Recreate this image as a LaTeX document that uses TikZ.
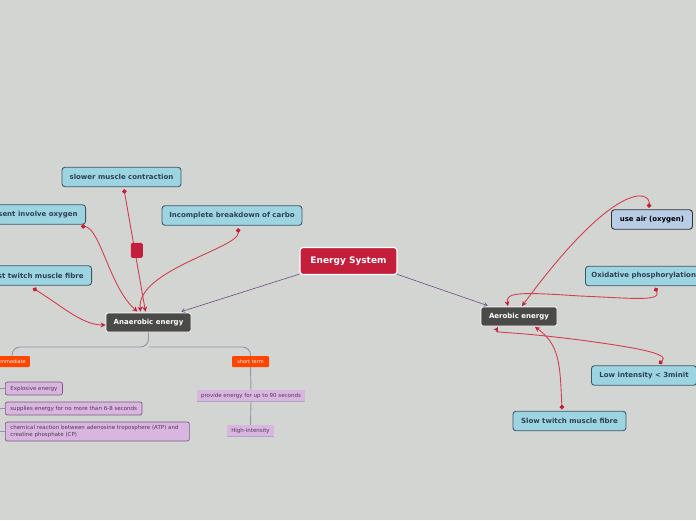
\documentclass[tikz,border=0pt]{standalone}
\usepackage{fontspec}
\setmainfont{DejaVu Sans}
\usetikzlibrary{arrows.meta,calc}
\definecolor{bg}{HTML}{D3D5D2}
\definecolor{esred}{HTML}{C41E3A}
\definecolor{relred}{HTML}{D2404F}
\definecolor{dotred}{HTML}{C41E3A}
\definecolor{dgray}{HTML}{4A4A48}
\definecolor{lblue}{HTML}{9DD4E2}
\definecolor{lborder}{HTML}{3E5866}
\definecolor{ltext}{HTML}{2E4152}
\definecolor{airblue}{HTML}{B8CCE6}
\definecolor{orng}{HTML}{FF4400}
\definecolor{lpurple}{HTML}{D9B6E0}
\definecolor{pborder}{HTML}{7B5A82}
\definecolor{ptext}{HTML}{4F3A55}
\definecolor{brcol}{HTML}{9A90AE}
\definecolor{purpline}{HTML}{6A4A8A}
\tikzset{
  topic/.style={fill=esred, draw=white, line width=1.2pt, rounded corners=3pt, text=white,
    font=\fontsize{9}{10}\selectfont\bfseries, minimum width=97pt, minimum height=27pt, inner sep=0pt},
  mainbox/.style={fill=dgray, draw=white, line width=0.8pt, rounded corners=2pt, text=white,
    font=\fontsize{7}{8}\selectfont\bfseries, minimum height=19pt, inner sep=0pt},
  leaf/.style={fill=lblue, draw=lborder, line width=0.9pt, rounded corners=3pt, text=ltext,
    font=\fontsize{7}{8}\selectfont\bfseries, minimum height=19.5pt, inner sep=0pt},
  orangebox/.style={fill=orng, text=white, font=\fontsize{5}{6}\selectfont,
    minimum height=11pt, inner sep=0pt, rounded corners=1pt},
  pitem/.style={fill=lpurple, draw=pborder, line width=0.7pt, rounded corners=2pt, text=ptext,
    font=\fontsize{5.5}{6.5}\selectfont, inner xsep=5pt, inner ysep=0pt, minimum height=13pt, anchor=west},
  pflat/.style={fill=lpurple, text=ptext, font=\fontsize{5.5}{6.5}\selectfont, inner sep=0pt,
    minimum height=11pt},
  br/.style={draw=brcol, line width=0.9pt},
  esconn/.style={draw=purpline, line width=0.6pt, -{Straight Barb[length=3pt,width=4pt]}},
  rel/.style={draw=relred, line width=0.9pt, {Circle[length=4.5pt,width=4.5pt,fill=dotred,color=dotred]}-{Stealth[length=5pt,width=5pt,color=dotred]}},
  relsq/.style={fill=esred, rounded corners=1.5pt, minimum width=12pt, minimum height=15pt, inner sep=0pt},
}
\begin{document}
\begin{tikzpicture}[x=1pt,y=-1pt]
\fill[bg] (0,0) rectangle (696,520);
\useasboundingbox (0,0) rectangle (696,520);

% main nodes
\node[topic] (es) at (348.5,261) {Energy System};
\node[mainbox, minimum width=85pt] (an) at (148.5,322.5) {Anaerobic energy};
\node[mainbox, minimum width=76pt] (ae) at (519,316.5) {Aerobic energy};

% leaf nodes
\node[leaf, minimum width=119pt] (sl) at (121.5,177) {slower muscle contraction};
\node[leaf, minimum width=140pt] (ib) at (232,215.5) {Incomplete breakdown of carbo};
\node[leaf, anchor=east, inner xsep=8pt] (so) at (86,214.5) {sent involve oxygen};
\node[leaf, anchor=east, inner xsep=8pt] (tw) at (92,275.5) {st twitch muscle fibre};
\node[leaf, anchor=west, text=black, fill=airblue, draw=black!80, minimum width=81pt] (ua) at (611,219.5) {use air (oxygen)};
\node[leaf, anchor=west, inner xsep=6pt] (ox) at (585,276) {Oxidative phosphorylation\hspace{6pt}};
\node[leaf, anchor=west, inner xsep=8pt] (li) at (591,375.5) {Low intensity < 3minit\hspace{6pt}};
\node[leaf, minimum width=113pt] (st) at (569.5,421) {Slow twitch muscle fibre};

% branch nodes
\node[orangebox, anchor=east, inner xsep=4pt] (im) at (30,361.5) {mmediate};
\node[orangebox, minimum width=37pt] (stt) at (250.5,361.5) {short term};
\node[pitem] (ex) at (5,388.5) {Explosive energy};
\node[pitem] (su) at (5,408.5) {supplies energy for no more than 6-8 seconds};
\node[pitem, text width=174pt, minimum height=19pt, align=left] (ch) at (5,431.5)
  {chemical reaction between adenosine troposphere (ATP) and\\creatine phosphate (CP)};
\node[pflat, minimum width=108pt] (pr) at (251,395.5) {provide energy for up to 90 seconds};
\node[pflat, minimum width=47pt] (hi) at (250.5,430.5) {High-intensity};
\draw[brcol!80, line width=0.7pt] (pr.south west) -- (pr.south east);
\draw[brcol!80, line width=0.7pt] (hi.south west) -- (hi.south east);

% tree branches
\coordinate (fork) at (148.5,347);
\coordinate (imtop) at (12,356);
\draw[br, rounded corners=8pt] (an.south) -- (fork) -| (imtop);
\draw[br, rounded corners=8pt] (fork) -| (stt.north);
\draw[br] (stt.south) -- (pr.north);
\draw[br] (pr.south) -- (hi.north);
\coordinate (s1) at (0,388.5);
\coordinate (s2) at (0,408.5);
\coordinate (s3) at (0,431.5);
\draw[br] (s1) -- (ex.west);
\draw[br] (s2) -- (su.west);
\draw[br] (s3) -- (ch.west);

% energy system connectors
\draw[esconn] ($(es.south west)+(0,-1)$) -- ($(an.north east)+(-10,-1)$);
\draw[esconn] ($(es.south east)+(-1,-1)$) -- ($(ae.north west)+(7,-1)$);

% relationship links (anaerobic)
\draw[rel] ($(sl.south)+(2.5,2)$) -- node[relsq, pos=0.5, xshift=2pt] (sq) {} ($(an.north)+(-3,-1)$);
\draw[rel] ($(so.south east)+(-5,1.5)$) .. controls (100,228) and (110,288) .. ($(an.north)+(-11,-1)$);
\draw[rel] ($(ib.south)+(6,2.5)$) .. controls (240,248) and (136,270) .. ($(an.north)+(-8,-1)$);
\draw[rel] ($(tw.south east)+(-59,2.5)$) .. controls (62,306) and (82,325) .. ($(an.west)+(0,2.5)$);

% relationship links (aerobic)
\draw[rel] ($(ua.north)+(-3,-1.5)$) .. controls (650,190) and (615,180) .. ($(ae.north)+(3,-0.5)$);
\draw[rel] ($(ox.south west)+(70,1.5)$) .. controls (662,302) and (630,298) .. (580,296)
   .. controls (520,292) and (505,292) .. ($(ae.north)+(-11,-0.5)$);
\draw[rel] ($(li.north west)+(68,-1.5)$) .. controls (670,354) and (640,348) .. (580,340)
   .. controls (502,330) and (494,334) .. ($(ae.south)+(-21,0.5)$);
\draw[rel] ($(st.north)+(-7.5,-1.5)$) .. controls (560,365) and (560,345) .. ($(ae.south)+(16,0.5)$);
\end{tikzpicture}
\end{document}
